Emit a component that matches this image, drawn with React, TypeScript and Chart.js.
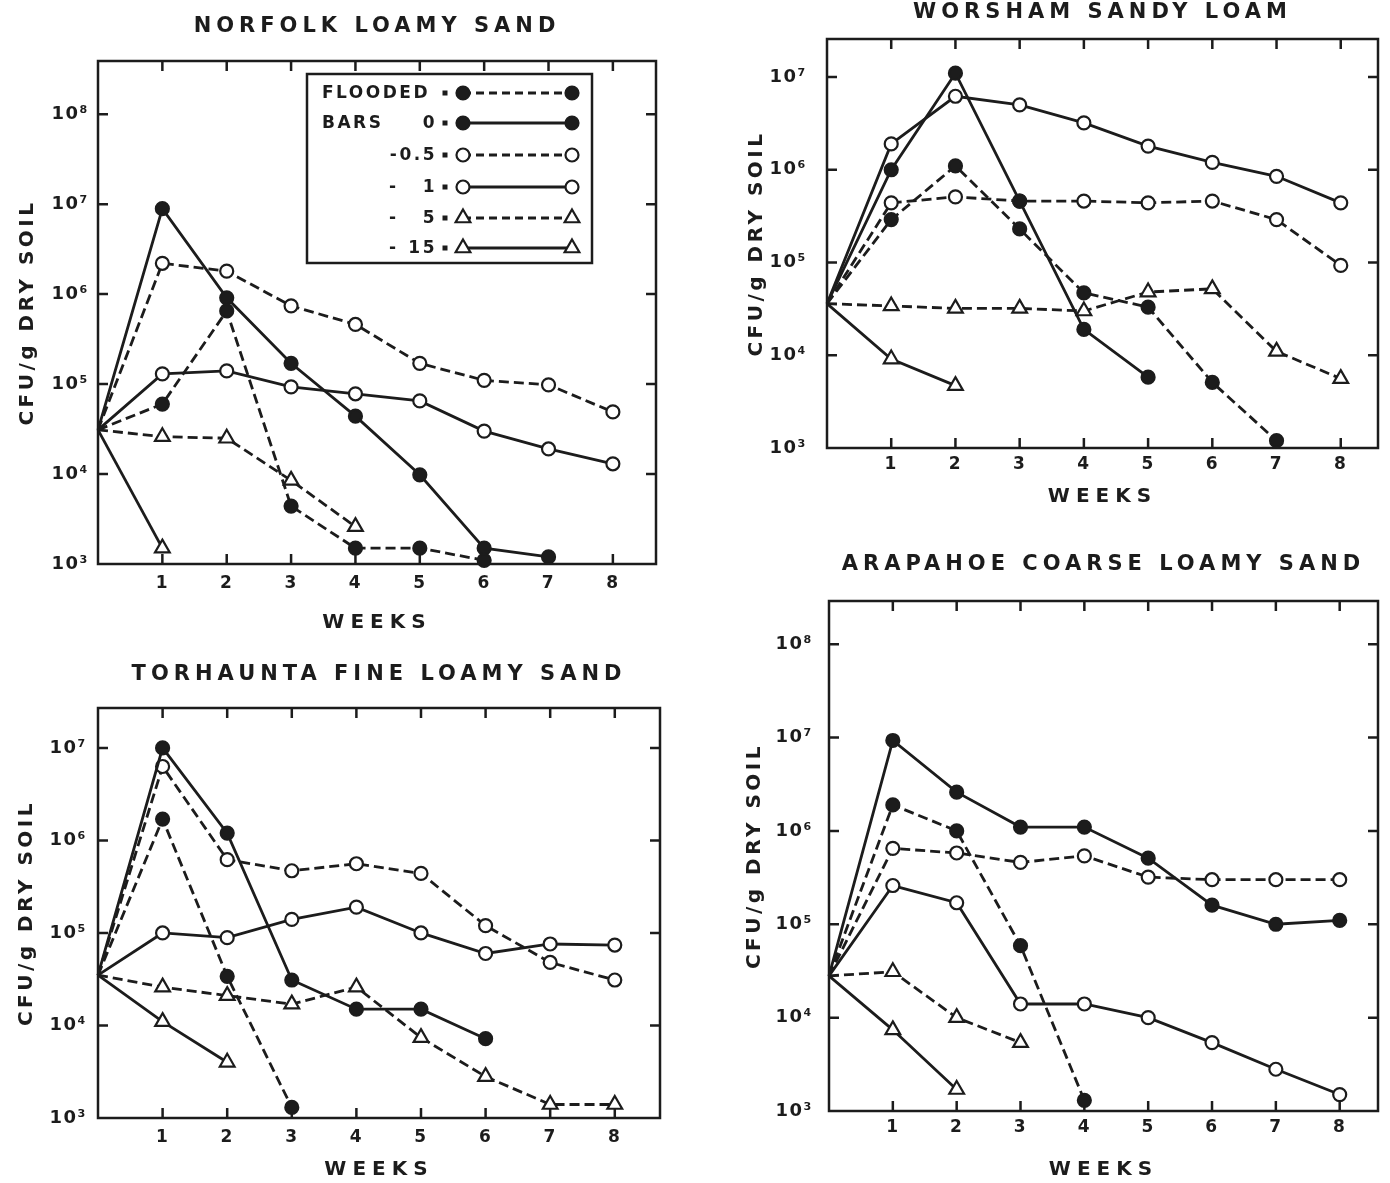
import React, { useEffect, useRef } from 'react';
import { Chart, registerables } from 'chart.js';

Chart.register(...registerables);

const INK = '#1c1c1c';
const FONT = "'DejaVu Sans', 'Liberation Sans', sans-serif";

// ---------- axis ticks ----------
const WEEKS = [0, 1, 2, 3, 4, 5, 6, 7, 8];
const WEEK_TICKS = [1, 2, 3, 4, 5, 6, 7, 8];
const DECADES = [1e3, 1e4, 1e5, 1e6, 1e7, 1e8];
const DECADE_LABELS = ['10³', '10⁴', '10⁵', '10⁶', '10⁷', '10⁸'];

// ---------- series names / legend text ----------
const SERIES_NAMES = ['Flooded', '0 bars', '-0.5 bars', '-1 bars', '-5 bars', '-15 bars'];
const LEGEND_LEFT = ['FLOODED', 'BARS', '', '-', '-', '-'];
const LEGEND_RIGHT = ['', '0', '-0.5', '1', '5', '15'];
const SERIES_DASHED = [true, false, true, false, true, false];
const SERIES_FILLED = [true, true, false, false, false, false];
const SERIES_MARKER = ['circle', 'circle', 'circle', 'circle', 'triangle', 'triangle'];

const X_TITLE = 'WEEKS';
const Y_TITLE = 'CFU/g DRY SOIL';

// ---------- data: CFU per g dry soil, index = week (0, 1, 2, ...) ----------
// Norfolk loamy sand
const NORFOLK_FLOODED = [3.1e4, 6.0e4, 6.5e5, 4.4e3, 1.5e3, 1.5e3, 1.1e3];
const NORFOLK_BAR0 = [3.1e4, 8.9e6, 9.1e5, 1.7e5, 4.4e4, 9.8e3, 1.5e3, 1.2e3];
const NORFOLK_BAR05 = [3.1e4, 2.2e6, 1.8e6, 7.4e5, 4.6e5, 1.7e5, 1.1e5, 9.8e4, 4.9e4];
const NORFOLK_BAR1 = [3.1e4, 1.3e5, 1.4e5, 9.3e4, 7.8e4, 6.5e4, 3.0e4, 1.9e4, 1.3e4];
const NORFOLK_BAR5 = [3.1e4, 2.6e4, 2.5e4, 8.5e3, 2.6e3];
const NORFOLK_BAR15 = [3.1e4, 1.5e3];

// Worsham sandy loam
const WORSHAM_FLOODED = [3.6e4, 2.9e5, 1.1e6, 2.3e5, 4.7e4, 3.3e4, 5.1e3, 1.2e3];
const WORSHAM_BAR0 = [3.6e4, 1.0e6, 1.1e7, 4.6e5, 1.9e4, 5.8e3];
const WORSHAM_BAR05 = [3.6e4, 4.4e5, 5.1e5, 4.6e5, 4.6e5, 4.4e5, 4.6e5, 2.9e5, 9.3e4];
const WORSHAM_BAR1 = [3.6e4, 1.9e6, 6.2e6, 5.0e6, 3.2e6, 1.8e6, 1.2e6, 8.5e5, 4.4e5];
const WORSHAM_BAR5 = [3.6e4, 3.4e4, 3.2e4, 3.2e4, 3.0e4, 4.8e4, 5.2e4, 1.1e4, 5.6e3];
const WORSHAM_BAR15 = [3.6e4, 9.1e3, 4.7e3];

// Torhaunta fine loamy sand
const TORHAUNTA_FLOODED = [3.5e4, 1.7e6, 3.4e4, 1.3e3];
const TORHAUNTA_BAR0 = [3.5e4, 1.0e7, 1.2e6, 3.1e4, 1.5e4, 1.5e4, 7.2e3];
const TORHAUNTA_BAR05 = [3.5e4, 6.3e6, 6.2e5, 4.7e5, 5.6e5, 4.4e5, 1.2e5, 4.8e4, 3.1e4];
const TORHAUNTA_BAR1 = [3.5e4, 1.0e5, 8.9e4, 1.4e5, 1.9e5, 1.0e5, 6.0e4, 7.6e4, 7.4e4];
const TORHAUNTA_BAR5 = [3.5e4, 2.6e4, 2.1e4, 1.7e4, 2.6e4, 7.4e3, 2.8e3, 1.4e3, 1.4e3];
const TORHAUNTA_BAR15 = [3.5e4, 1.1e4, 4.0e3];

// Arapahoe coarse loamy sand
const ARAPAHOE_FLOODED = [2.8e4, 1.9e6, 1.0e6, 5.9e4, 1.3e3];
const ARAPAHOE_BAR0 = [2.8e4, 9.3e6, 2.6e6, 1.1e6, 1.1e6, 5.1e5, 1.6e5, 1.0e5, 1.1e5];
const ARAPAHOE_BAR05 = [2.8e4, 6.5e5, 5.8e5, 4.6e5, 5.4e5, 3.2e5, 3.0e5, 3.0e5, 3.0e5];
const ARAPAHOE_BAR1 = [2.8e4, 2.6e5, 1.7e5, 1.4e4, 1.4e4, 1.0e4, 5.4e3, 2.8e3, 1.5e3];
const ARAPAHOE_BAR5 = [2.8e4, 3.1e4, 1.0e4, 5.4e3];
const ARAPAHOE_BAR15 = [2.8e4, 7.4e3, 1.7e3];

// ---------- panel layout ----------
type PanelSpec = {
  title: string;
  series: number[][];
  xMax: number;
  yMax: number;
  rect: { left: number; top: number; width: number; height: number };
  padRight: number;
  titlePad: [number, number];
  yAxisW: number;
  yTickPad: number;
  yTitlePad: number;
  xAxisH: number;
  xTickPad: number;
  xTitlePad: number;
  legend: boolean;
};

const PANELS: PanelSpec[] = [
  {
    title: 'NORFOLK LOAMY SAND',
    series: [NORFOLK_FLOODED, NORFOLK_BAR0, NORFOLK_BAR05, NORFOLK_BAR1, NORFOLK_BAR5, NORFOLK_BAR15],
    xMax: 8.67, yMax: 3.9e8,
    rect: { left: 0, top: 0, width: 690, height: 650 },
    padRight: 34, titlePad: [16, 24], yAxisW: 98, yTickPad: 9, yTitlePad: 16,
    xAxisH: 86, xTickPad: 9, xTitlePad: 15, legend: true,
  },
  {
    title: 'WORSHAM SANDY LOAM',
    series: [WORSHAM_FLOODED, WORSHAM_BAR0, WORSHAM_BAR05, WORSHAM_BAR1, WORSHAM_BAR5, WORSHAM_BAR15],
    xMax: 8.58, yMax: 2.57e7,
    rect: { left: 700, top: 0, width: 690, height: 530 },
    padRight: 12, titlePad: [2, 16], yAxisW: 127, yTickPad: 20, yTitlePad: 45,
    xAxisH: 82, xTickPad: 6, xTitlePad: 21, legend: false,
  },
  {
    title: 'TORHAUNTA FINE LOAMY SAND',
    series: [TORHAUNTA_FLOODED, TORHAUNTA_BAR0, TORHAUNTA_BAR05, TORHAUNTA_BAR1, TORHAUNTA_BAR5, TORHAUNTA_BAR15],
    xMax: 8.7, yMax: 2.7e7,
    rect: { left: 0, top: 650, width: 690, height: 533 },
    padRight: 30, titlePad: [14.5, 22.5], yAxisW: 98, yTickPad: 11, yTitlePad: 15,
    xAxisH: 65, xTickPad: 9, xTitlePad: 1, legend: false,
  },
  {
    title: 'ARAPAHOE COARSE LOAMY SAND',
    series: [ARAPAHOE_FLOODED, ARAPAHOE_BAR0, ARAPAHOE_BAR05, ARAPAHOE_BAR1, ARAPAHOE_BAR5, ARAPAHOE_BAR15],
    xMax: 8.6, yMax: 2.9e8,
    rect: { left: 700, top: 530, width: 690, height: 653 },
    padRight: 12, titlePad: [24.5, 25.5], yAxisW: 129, yTickPad: 16, yTitlePad: 43,
    xAxisH: 72, xTickPad: 6, xTitlePad: 1, legend: false,
  },
];

// legend box geometry (panel 1 canvas coordinates)
const LEGEND_BOX = {
  x: 307, y: 74, w: 285, h: 189,
  rows: [93, 123, 155, 187, 218, 248],
  textX: 322, minusX: 389, rightX: 437, eqX: 445, m1X: 463, m2X: 572,
};

const TICK_LEN = 10;
const FRAME_W = 2.5;
const LINE_W = 2.8;
const DASH = [10, 5];
const CIRCLE_R = 6.5;
const TRI_R = 8.5;

function withSpacing(ctx: any, sp: string, fn: () => void) {
  const prev = ctx.letterSpacing;
  ctx.letterSpacing = sp;
  try { fn(); } finally { ctx.letterSpacing = prev; }
}

function drawMarker(ctx: CanvasRenderingContext2D, style: string, filled: boolean, x: number, y: number) {
  ctx.save();
  ctx.setLineDash([]);
  ctx.lineWidth = 2.2;
  ctx.strokeStyle = INK;
  ctx.fillStyle = filled ? INK : '#ffffff';
  ctx.beginPath();
  if (style === 'triangle') {
    const r = TRI_R;
    ctx.moveTo(x, y - r);
    ctx.lineTo(x + 0.866 * r, y + 0.5 * r);
    ctx.lineTo(x - 0.866 * r, y + 0.5 * r);
    ctx.closePath();
  } else {
    ctx.arc(x, y, CIRCLE_R, 0, Math.PI * 2);
  }
  ctx.fill();
  ctx.stroke();
  ctx.restore();
}

const framePlugin = {
  id: 'frameTicks',
  afterLayout(chart: any) {
    const tb = chart.titleBlock;
    if (tb && !tb._spaced) {
      const orig = tb.draw.bind(tb);
      tb.draw = (...a: any[]) => withSpacing(chart.ctx, '5px', () => orig(...a));
      tb._spaced = true;
    }
    Object.values(chart.scales).forEach((s: any) => {
      if (!s._spaced) {
        const o = s.drawTitle.bind(s);
        const sp = s.axis === 'x' ? '6px' : '3.5px';
        s.drawTitle = (...a: any[]) => withSpacing(chart.ctx, sp, () => o(...a));
        s._spaced = true;
      }
    });
  },
  beforeDraw(chart: any) {
    chart.ctx.letterSpacing = '1.5px';
  },
  afterDraw(chart: any) {
    chart.ctx.letterSpacing = '0px';
  },
  beforeDatasetsDraw(chart: any) {
    const { ctx, chartArea: a, scales } = chart;
    const x = scales.x;
    const y = scales.y;
    ctx.save();
    ctx.strokeStyle = INK;
    ctx.lineWidth = FRAME_W;
    ctx.setLineDash([]);
    ctx.strokeRect(a.left, a.top, a.right - a.left, a.bottom - a.top);
    ctx.beginPath();
    x.ticks.forEach((t: any) => {
      const px = x.getPixelForValue(t.value);
      ctx.moveTo(px, a.bottom);
      ctx.lineTo(px, a.bottom - TICK_LEN);
      ctx.moveTo(px, a.top);
      ctx.lineTo(px, a.top + TICK_LEN);
    });
    y.ticks.forEach((t: any) => {
      if (t.value <= y.min * 1.01) return;
      const py = y.getPixelForValue(t.value);
      ctx.moveTo(a.left, py);
      ctx.lineTo(a.left + TICK_LEN, py);
      ctx.moveTo(a.right, py);
      ctx.lineTo(a.right - TICK_LEN, py);
    });
    ctx.stroke();
    ctx.restore();
  },
};

const legendPlugin = {
  id: 'soilLegend',
  afterDatasetsDraw(chart: any) {
    const ctx = chart.ctx;
    const L = LEGEND_BOX;
    ctx.save();
    ctx.setLineDash([]);
    ctx.fillStyle = '#ffffff';
    ctx.fillRect(L.x, L.y, L.w, L.h);
    ctx.lineWidth = FRAME_W;
    ctx.strokeStyle = INK;
    ctx.strokeRect(L.x, L.y, L.w, L.h);
    ctx.font = `bold 17px ${FONT}`;
    ctx.letterSpacing = '2.5px';
    ctx.textBaseline = 'middle';
    chart.data.datasets.forEach((ds: any, i: number) => {
      const y = L.rows[i];
      ctx.fillStyle = INK;
      const left = LEGEND_LEFT[i];
      const right = LEGEND_RIGHT[i];
      if (left) {
        ctx.textAlign = 'left';
        ctx.fillText(left, left === '-' ? L.minusX : L.textX, y + 1);
      }
      if (right) {
        ctx.textAlign = 'right';
        ctx.fillText(right, L.rightX, y + 1);
      }
      ctx.fillRect(L.eqX - 2.5, y - 2.5, 5, 5);
      ctx.lineWidth = LINE_W;
      ctx.setLineDash(SERIES_DASHED[i] ? [8, 5] : []);
      ctx.beginPath();
      ctx.moveTo(L.m1X, y);
      ctx.lineTo(L.m2X, y);
      ctx.stroke();
      ctx.setLineDash([]);
      drawMarker(ctx, SERIES_MARKER[i], SERIES_FILLED[i], L.m1X, y);
      drawMarker(ctx, SERIES_MARKER[i], SERIES_FILLED[i], L.m2X, y);
    });
    ctx.restore();
  },
};

function buildConfig(spec: PanelSpec) {
  const datasets = spec.series.map((vals, i) => ({
    label: SERIES_NAMES[i],
    data: vals.map((v, k) => ({ x: WEEKS[k], y: v })),
    borderColor: INK,
    backgroundColor: SERIES_FILLED[i] ? INK : '#ffffff',
    borderWidth: LINE_W,
    borderDash: SERIES_DASHED[i] ? DASH : [],
    pointStyle: SERIES_MARKER[i],
    pointRadius: (c: any) => (c.dataIndex === 0 ? 0 : SERIES_MARKER[i] === 'triangle' ? TRI_R : CIRCLE_R),
    pointBorderWidth: 2.2,
    pointBorderColor: INK,
    pointBackgroundColor: SERIES_FILLED[i] ? INK : '#ffffff',
    fill: false,
    tension: 0,
    clip: false,
  }));

  const xTickFont = { family: FONT, size: 17, weight: 'bold' as const };
  const yTickFont = { family: FONT, size: 18, weight: 'bold' as const };
  const axisTitleFont = { family: FONT, size: 20, weight: 'bold' as const, lineHeight: 1.2 };

  return {
    type: 'line' as const,
    data: { datasets },
    plugins: spec.legend ? [framePlugin, legendPlugin] : [framePlugin],
    options: {
      responsive: false,
      animation: false,
      devicePixelRatio: 1,
      layout: { padding: { left: 0, top: 0, right: spec.padRight, bottom: 0 } },
      plugins: {
        legend: { display: false },
        tooltip: { enabled: false },
        title: {
          display: true,
          text: spec.title,
          color: INK,
          fullSize: false,
          font: { family: FONT, size: 21, weight: 'bold', lineHeight: 1 },
          padding: { top: spec.titlePad[0], bottom: spec.titlePad[1] },
        },
      },
      scales: {
        x: {
          type: 'linear',
          min: 0,
          max: spec.xMax,
          afterBuildTicks: (s: any) => { s.ticks = WEEK_TICKS.map((v) => ({ value: v })); },
          afterFit: (s: any) => { s.height = spec.xAxisH; },
          grid: { display: false, drawTicks: false },
          border: { display: false },
          ticks: {
            color: INK, font: xTickFont, padding: spec.xTickPad,
            maxRotation: 0, autoSkip: false,
            callback: (v: any) => String(v),
          },
          title: {
            display: true, text: X_TITLE, color: INK, font: axisTitleFont,
            padding: { top: 0, bottom: spec.xTitlePad },
          },
        },
        y: {
          type: 'logarithmic',
          min: 1000,
          max: spec.yMax,
          afterBuildTicks: (s: any) => {
            s.ticks = DECADES.filter((v) => v <= s.max).map((v) => ({ value: v }));
          },
          afterFit: (s: any) => { s.width = spec.yAxisW; },
          grid: { display: false, drawTicks: false },
          border: { display: false },
          ticks: {
            color: INK, font: yTickFont, padding: spec.yTickPad, autoSkip: false,
            callback: (v: any) => DECADE_LABELS[Math.round(Math.log10(v)) - 3] ?? '',
          },
          title: {
            display: true, text: Y_TITLE, color: INK, font: axisTitleFont,
            padding: { top: spec.yTitlePad, bottom: 0 },
          },
        },
      },
    },
  };
}

function Panel({ spec }: { spec: PanelSpec }) {
  const ref = useRef<HTMLCanvasElement>(null);
  useEffect(() => {
    if (!ref.current) return;
    const chart = new Chart(ref.current, buildConfig(spec) as any);
    return () => chart.destroy();
  }, [spec]);
  const r = spec.rect;
  return (
    <canvas
      ref={ref}
      width={r.width}
      height={r.height}
      style={{ position: 'absolute', left: r.left, top: r.top, width: r.width, height: r.height }}
    />
  );
}

export default function App() {
  return (
    <div style={{ position: 'absolute', left: 0, top: 0, width: 1390, height: 1183, background: '#ffffff', overflow: 'hidden' }}>
      {PANELS.map((p) => (
        <Panel key={p.title} spec={p} />
      ))}
    </div>
  );
}
